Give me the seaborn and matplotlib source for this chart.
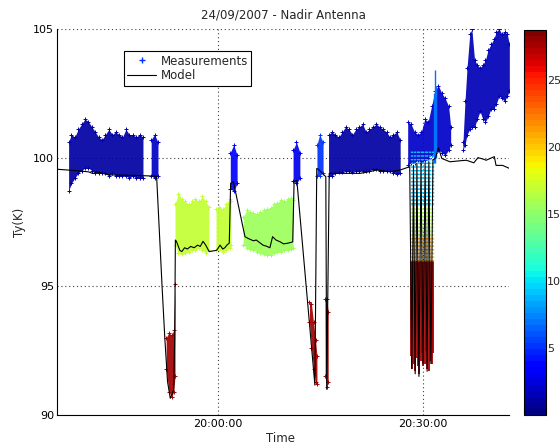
import matplotlib
matplotlib.use("Agg")
import matplotlib.pyplot as plt
import seaborn as sns
from matplotlib.lines import Line2D
from matplotlib.colors import Normalize
from matplotlib.cm import ScalarMappable

# ---------------- data (time in minutes relative to 20:00:00) ----------------
tick_pos = [0, 30]
tick_labels = ["20:00:00", "20:30:00"]
y_ticks = [90, 95, 100, 105]
cbar_ticks = [5, 10, 15, 20, 25]
c_min, c_max = 0.0, 28.7

model_t = [-23.6, -21.0, -19.0, -18.3, -17.8, -16.0, -12.0, -9.0,
           -8.2, -7.8, -7.4, -7.0, -6.75, -6.5, -6.35, -6.25,
           -6.1, -5.6, -5.3, -4.9, -4.5, -4.0, -3.5, -3.0, -2.6, -2.2, -1.8, -1.3,
           -0.2, 0.3, 0.7, 1.0, 1.3, 1.65, 1.85, 2.25,
           3.95, 4.5, 5.2, 5.6, 6.1, 6.6, 7.1, 7.6, 8.0, 8.5, 9.1, 9.6, 10.1, 10.6,
           10.95, 11.15, 11.55,
           14.2, 14.47, 14.7, 15.8, 15.93, 16.3,
           20.8, 21.5, 23.3, 25.2, 26.7, 28.1,
           28.4, 28.65, 28.9, 29.15, 29.45, 29.75, 30.05, 30.35, 30.65, 30.9, 31.2, 31.5,
           31.9, 32.3, 32.8, 34.0, 35.5, 36.4, 37.5, 38.1, 38.8, 39.3, 40.5, 40.75,
           41.7, 42.65]
model_y = [99.55, 99.5, 99.45, 99.38, 99.45, 99.33, 99.31, 99.28,
           95.0, 93.0, 91.3, 90.65, 90.8, 91.0, 93.0, 96.8,
           96.75, 96.4, 96.35, 96.5, 96.45, 96.55, 96.5, 96.6, 96.55, 96.75, 96.6, 96.35,
           96.4, 96.6, 96.45, 96.5, 96.6, 96.68, 99.0, 99.07,
           96.93, 96.85, 96.77, 96.8, 96.7, 96.6, 96.56, 96.5, 96.93, 96.8, 96.73, 96.65,
           96.67, 96.7, 96.73, 99.07, 99.13,
           91.16, 99.58, 99.55, 99.26, 91.0, 99.39,
           99.39, 99.42, 99.52, 99.45, 99.52, 99.65,
           91.8, 99.7, 91.6, 99.75, 91.5, 99.8, 92.0, 99.8, 91.7, 99.85, 92.0, 99.9,
           100.0, 100.4, 99.97, 99.84, 99.88, 99.9, 99.8, 100.0, 99.95, 99.9, 100.04, 99.7,
           99.7, 99.59]

# measurement clouds: time, lower envelope, upper envelope, colour value
blue1_t = [-21.9, -21.5, -21.0, -20.5, -20.0, -19.5, -19.0, -18.5, -18.0, -17.5, -17.0, -16.5,
           -16.0, -15.5, -15.0, -14.5, -14.0, -13.5, -13.0, -12.5, -12.0, -11.5, -11.0]
blue1_hi = [100.6, 100.9, 100.8, 101.1, 101.3, 101.5, 101.4, 101.2, 101.0, 100.8, 100.7, 100.9,
            101.1, 100.9, 101.0, 100.9, 100.8, 101.1, 100.9, 100.9, 100.8, 100.9, 100.8]
blue1_lo = [98.7, 99.0, 99.2, 99.4, 99.5, 99.6, 99.6, 99.5, 99.4, 99.4, 99.4, 99.4,
            99.3, 99.4, 99.3, 99.3, 99.3, 99.3, 99.2, 99.3, 99.2, 99.2, 99.2]
blue1_c = 1.3

blue1b_t = [-9.8, -9.3, -8.8]
blue1b_hi = [100.7, 100.9, 100.6]
blue1b_lo = [99.3, 99.2, 99.3]
blue1b_c = 2.0

red1_t = [-7.6, -7.2, -6.8, -6.5, -6.3]
red1_hi = [93.0, 93.2, 93.1, 93.3, 95.1]
red1_lo = [91.8, 90.9, 90.7, 90.9, 91.5]
red1_c = 27.8

green1_t = [-6.3, -5.8, -5.3, -4.8, -4.3, -3.8, -3.3, -2.8, -2.3, -1.8, -1.35]
green1_hi = [98.2, 98.6, 98.4, 98.3, 98.2, 98.3, 98.4, 98.3, 98.5, 98.3, 98.1]
green1_lo = [96.6, 96.3, 96.25, 96.3, 96.35, 96.4, 96.4, 96.5, 96.4, 96.3, 96.4]
green1_c = 16.6

green1b_t = [-0.3, 0.2, 0.7, 1.2, 1.7, 1.9]
green1b_hi = [98.0, 98.1, 98.0, 98.2, 98.4, 98.3]
green1b_lo = [96.4, 96.4, 96.35, 96.4, 96.5, 96.6]
green1b_c = 16.6

spike1_t = [1.8, 2.3, 2.8]
spike1_hi = [100.2, 100.5, 100.1]
spike1_lo = [98.8, 98.7, 99.0]
spike1_c = 3.5

green2_t = [3.7, 4.2, 4.7, 5.2, 5.7, 6.2, 6.7, 7.2, 7.7, 8.2, 8.7, 9.2, 9.7, 10.2, 10.7, 11.0]
green2_hi = [97.7, 97.95, 97.9, 97.85, 97.8, 97.9, 97.95, 98.0, 98.05, 98.2, 98.25, 98.35,
             98.3, 98.4, 98.45, 98.35]
green2_lo = [96.6, 96.5, 96.45, 96.4, 96.35, 96.3, 96.25, 96.2, 96.2, 96.3, 96.35, 96.35,
             96.4, 96.4, 96.45, 96.5]
green2_c = 15.3

spike2_t = [11.0, 11.5, 12.0]
spike2_hi = [100.3, 100.6, 100.2]
spike2_lo = [99.1, 99.0, 99.2]
spike2_c = 3.0

red3_t = [13.4, 13.7, 14.0, 14.3, 14.5]
red3_hi = [94.4, 94.3, 93.6, 92.9, 92.3]
red3_lo = [93.6, 92.6, 91.8, 91.3, 91.2]
red3_c = 27.8

lblue3_t = [14.5, 14.9, 15.4]
lblue3_hi = [100.5, 100.9, 100.6]
lblue3_lo = [99.3, 99.3, 99.4]
lblue3_c = 5.0

red4_t = [15.7, 15.95, 16.15]
red4_hi = [94.5, 94.5, 94.0]
red4_lo = [91.5, 91.1, 91.3]
red4_c = 27.8

blue3_t = [16.2, 16.7, 17.2, 17.7, 18.2, 18.7, 19.2, 19.7, 20.2, 20.7, 21.2, 21.7,
           22.2, 22.7, 23.2, 23.7, 24.2, 24.7, 25.2, 25.7, 26.2, 26.7]
blue3_hi = [100.9, 101.0, 100.9, 100.8, 101.0, 101.2, 101.1, 100.9, 101.1, 101.2, 101.3, 101.0,
            101.1, 101.2, 101.3, 101.2, 101.1, 101.0, 100.8, 100.9, 101.0, 100.7]
blue3_lo = [99.3, 99.3, 99.4, 99.45, 99.45, 99.5, 99.5, 99.45, 99.5, 99.5, 99.5, 99.5,
            99.5, 99.55, 99.55, 99.5, 99.5, 99.5, 99.5, 99.4, 99.35, 99.4]
blue3_c = 1.3

blue4_t = [27.8, 28.3, 28.8, 29.3, 29.8, 30.3, 30.8, 31.3, 31.8, 32.3, 32.8, 33.3, 33.8, 34.1]
blue4_hi = [101.4, 101.3, 101.0, 100.9, 101.0, 101.5, 101.4, 102.0, 102.6, 102.8, 102.5, 102.3,
            102.0, 101.2]
blue4_lo = [99.7, 99.8, 99.8, 99.9, 99.8, 99.9, 100.0, 100.1, 100.2, 100.3, 100.2, 100.1,
            100.3, 100.5]
blue4_c = 1.8

blue5_t = [35.9, 36.2, 36.5, 36.9, 37.2, 37.6, 38.0, 38.4, 38.8, 39.2, 39.6, 40.0, 40.4,
           40.8, 41.2, 41.6, 42.0, 42.4, 42.7]
blue5_hi = [100.6, 102.2, 103.5, 104.8, 105.0, 103.8, 103.6, 103.5, 103.6, 103.8, 104.2, 104.4,
            104.6, 104.9, 105.0, 104.8, 104.9, 104.8, 104.4]
blue5_lo = [100.3, 100.5, 100.9, 101.1, 101.2, 101.2, 101.5, 101.8, 101.5, 101.4, 101.6, 101.9,
            101.9, 102.1, 102.4, 102.3, 102.2, 102.4, 102.6]
blue5_c = 1.5

# streaky region around 20:30 (several dips)
reg4_t = [28.3, 28.5, 28.7, 28.9, 29.1, 29.3, 29.5, 29.7, 29.9, 30.1, 30.3, 30.5, 30.7,
          30.9, 31.1, 31.3, 31.5]
reg4_lo = [92.3, 91.8, 92.0, 91.7, 92.2, 91.9, 91.6, 92.1, 92.4, 91.9, 92.0, 92.5, 91.8,
           91.7, 92.1, 92.0, 92.4]
reg4_levels = [96.0, 97.0, 98.2, 100.3]
reg4_vals = [27.5, 21.0, 16.0, 9.0]

cspike_t = [31.6, 31.8, 32.0]
cspike_hi = [102.5, 103.4, 102.8]
cspike_lo = [99.8, 99.8, 100.0]
cspike_c = 7.0

# ---------------- figure ----------------
sns.set_style("white")
plt.rcParams["font.family"] = ["DejaVu Sans"]

fig = plt.figure(figsize=(5.6, 4.48), dpi=100)
ax = fig.add_axes([57 / 560, 33 / 448, 452 / 560, 386 / 448])
cax = fig.add_axes([524 / 560, 33 / 448, 21.5 / 560, 385 / 448])

cmap = plt.get_cmap("jet", 64)
norm = Normalize(c_min, c_max)

clouds = [
    (blue1_t, blue1_lo, blue1_hi, blue1_c),
    (blue1b_t, blue1b_lo, blue1b_hi, blue1b_c),
    (red1_t, red1_lo, red1_hi, red1_c),
    (green1_t, green1_lo, green1_hi, green1_c),
    (green1b_t, green1b_lo, green1b_hi, green1b_c),
    (spike1_t, spike1_lo, spike1_hi, spike1_c),
    (green2_t, green2_lo, green2_hi, green2_c),
    (spike2_t, spike2_lo, spike2_hi, spike2_c),
    (red3_t, red3_lo, red3_hi, red3_c),
    (lblue3_t, lblue3_lo, lblue3_hi, lblue3_c),
    (red4_t, red4_lo, red4_hi, red4_c),
    (blue3_t, blue3_lo, blue3_hi, blue3_c),
    (blue4_t, blue4_lo, blue4_hi, blue4_c),
    (blue5_t, blue5_lo, blue5_hi, blue5_c),
]

for t, lo, hi, c in clouds:
    col = cmap(norm(c))
    ax.fill_between(t, lo, hi, color=col, lw=0, zorder=2, alpha=0.92)
    sns.scatterplot(x=list(t) + list(t), y=list(hi) + list(lo), marker="+", color=col,
                    s=7, linewidth=0.7, ax=ax, zorder=2, legend=False)

# streaks in the 20:30 region
bounds_lo = [reg4_lo] + [[lv] * len(reg4_t) for lv in reg4_levels[:-1]]
for i, (lv, val) in enumerate(zip(reg4_levels, reg4_vals)):
    col = cmap(norm(val))
    if i == 0:
        ax.vlines(reg4_t, bounds_lo[i], lv, colors=[col], lw=1.3, zorder=2)
    else:
        ax.vlines(reg4_t, bounds_lo[i], lv, colors=[col], lw=1.0, linestyles=":", zorder=2)
ax.vlines(cspike_t, cspike_lo, cspike_hi, colors=[cmap(norm(cspike_c))], lw=1.0, zorder=2)

# model line
sns.lineplot(x=model_t, y=model_y, color="black", lw=0.8, sort=False, estimator=None,
             ax=ax, zorder=4)

ax.set_xlim(-23.6, 42.65)
ax.set_ylim(90, 105)
ax.set_xticks(tick_pos)
ax.set_xticklabels(tick_labels)
ax.set_yticks(y_ticks)
ax.tick_params(direction="in", length=4, width=0.8, labelsize=8, pad=3, colors="black")
ax.tick_params(axis="y", pad=2)
ax.grid(True, linestyle=(0, (1, 2.5)), color="0.25", lw=0.8)
ax.set_axisbelow(True)
for s in ["top", "right"]:
    ax.spines[s].set_visible(False)
for s in ["left", "bottom"]:
    ax.spines[s].set_color("black")
    ax.spines[s].set_linewidth(0.8)
ax.set_xlabel("")
ax.set_ylabel("")

fig.text(283 / 560, 1 - 15 / 448, "24/09/2007 - Nadir Antenna", ha="center", va="center",
         fontsize=8.5)
fig.text(20 / 560, 1 - 222 / 448, "Ty(K)", rotation=90, ha="center", va="center", fontsize=8.5)
fig.text(280 / 560, 1 - 438 / 448, "Time", ha="center", va="center", fontsize=8.5)

handles = [
    Line2D([], [], marker="+", color=cmap(norm(5.0)), linestyle="none", markersize=5,
           markeredgewidth=1.0),
    Line2D([], [], color="black", lw=0.8),
]
leg = ax.legend(handles, ["Measurements", "Model"], loc="upper left",
                bbox_to_anchor=(0.148, 0.943), fontsize=8.5, frameon=True, fancybox=False,
                edgecolor="black", framealpha=1, borderpad=0.3, labelspacing=0.15,
                handlelength=2.4, handletextpad=0.4, borderaxespad=0)
leg.get_frame().set_linewidth(0.8)

sm = ScalarMappable(norm=norm, cmap=cmap)
cb = fig.colorbar(sm, cax=cax, ticks=cbar_ticks)
cb.outline.set_linewidth(0.8)
cb.outline.set_edgecolor("black")
cax.tick_params(direction="in", length=4, width=0.8, labelsize=8, pad=1, right=True, left=True)

fig.savefig("out.png", dpi=100)
